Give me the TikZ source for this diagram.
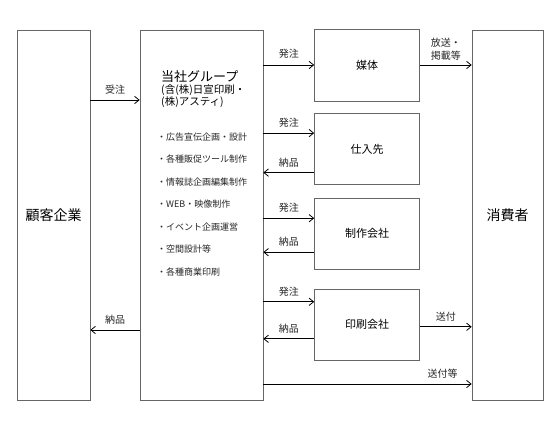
\documentclass[tikz,border=0pt]{standalone}
\usepackage{fontspec}
\setmainfont{Noto Sans CJK JP}
\usetikzlibrary{arrows.meta,positioning}

\begin{document}
\begin{tikzpicture}[x=1pt, y=-1pt, node distance=12pt,
  box/.style={draw=black!60, line width=0.6pt, inner sep=0pt, font=\fontsize{11}{13}\selectfont},
  tall/.style={box, minimum width=73pt, minimum height=370pt, font=\fontsize{14}{16}\selectfont},
  part/.style={box, minimum width=105pt, minimum height=71pt},
  lab/.style={font=\fontsize{10}{12}\selectfont, text=black!85, inner sep=2pt},
  item/.style={anchor=west, font=\fontsize{9}{11}\selectfont, text=black!85, inner sep=0pt},
  >={Straight Barb[length=1.6mm,width=2.6mm]}]
\useasboundingbox (0,0) rectangle (554,422);
\node[tall] (cust) at (53.5,215) {顧客企業};
\node[tall, minimum width=123pt] (main) at (201.5,215) {};
\node[tall, minimum width=71pt] (cons) at (507.5,215) {消費者};
\node[part, minimum height=72pt] (media) at (367,65) {媒体};
\node[part, below=of media] (supp) {仕入先};
\node[part, below=13pt of supp] (prod) {制作会社};
\node[part, below=19pt of prod] (prnt) {印刷会社};
% text inside the group box
\node[anchor=north west, align=left, inner sep=0pt] (grp) at (161,70) {{\fontsize{13}{16}\selectfont 当社グループ}\\[0pt]{\fontsize{10.5}{14.5}\selectfont (含(株)日宣印刷・}\\{\fontsize{10.5}{14.5}\selectfont (株)アスティ)}};
\node[item] (i1) at (157,137) {・広告宣伝企画・設計};
\node[item] (i2) at (157,159.5) {・各種販促ツール制作};
\node[item] (i3) at (157,182) {・情報誌企画編集制作};
\node[item] (i4) at (157,204.5) {・WEB・映像制作};
\node[item] (i5) at (157,227) {・イベント企画運営};
\node[item] (i6) at (157,249.5) {・空間設計等};
\node[item] (i7) at (157,272) {・各種商業印刷};
% connectors
\begin{scope}[line width=0.8pt]
\draw[->] ([yshift=115pt]cust.east) -- ([yshift=115pt]main.west) node[lab, midway, above=3pt] {受注};
\draw[->] ([yshift=-115pt]main.west) -- ([yshift=-115pt]cust.east) node[lab, midway, above=3pt] {納品};
\draw[->] (main.east |- media.west) -- (media.west) node[lab, midway, above=4pt] {発注};
\draw[->] ([yshift=16pt]main.east |- supp.west) -- ([yshift=16pt]supp.west) node[lab, midway, above=3pt] {発注};
\draw[->] ([yshift=-23.5pt]supp.west) -- ([yshift=-23.5pt]main.east |- supp.west) node[lab, midway, above=3pt] {納品};
\draw[->] ([yshift=15.5pt]main.east |- prod.west) -- ([yshift=15.5pt]prod.west) node[lab, midway, above=3pt] {発注};
\draw[->] ([yshift=-18.5pt]prod.west) -- ([yshift=-18.5pt]main.east |- prod.west) node[lab, midway, above=3pt] {納品};
\draw[->] ([yshift=22.5pt]main.east |- prnt.west) -- ([yshift=22.5pt]prnt.west) node[lab, midway, above=3pt] {発注};
\draw[->] ([yshift=-14.5pt]prnt.west) -- ([yshift=-14.5pt]main.east |- prnt.west) node[lab, midway, above=3pt] {納品};
\draw[->] ([yshift=-2.5pt]prnt.east) -- ([yshift=-2.5pt]cons.west |- prnt.east) node[lab, midway, above=3pt] {送付};
\draw[->] (media.east) -- (cons.west |- media.east) node[lab, midway, above=2pt, align=left, font=\fontsize{10}{13}\selectfont] {放送・\\掲載等};
\draw[->] ([yshift=-169pt]main.east) -- ([yshift=-169pt]cons.west) node[lab, pos=0.86, above=3pt] {送付等};
\end{scope}
\end{tikzpicture}
\end{document}
